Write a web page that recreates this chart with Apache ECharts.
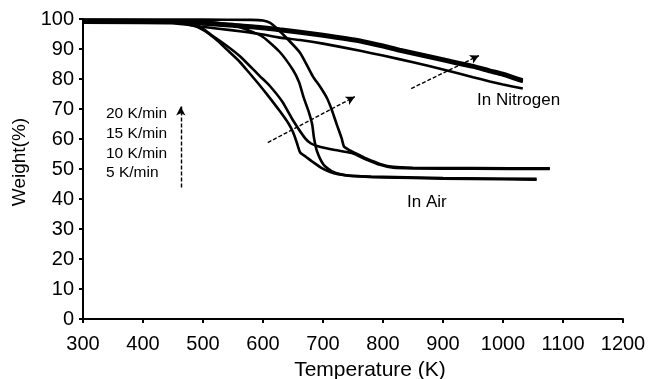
<!DOCTYPE html>
<html>
<head>
<meta charset="utf-8">
<script src="https://cdn.jsdelivr.net/npm/echarts@6/dist/echarts.min.js"></script>
<style>html,body{margin:0;padding:0;background:#fff;}#c{width:658px;height:379px;}</style>
</head>
<body>
<div id="c"></div>
<script>
// Tick values
const xTicks = [300,400,500,600,700,800,900,1000,1100,1200];
const yTicks = [0,10,20,30,40,50,60,70,80,90,100];

// Air, [T (K), weight %]
const air5 = [[300,99.0],[400,99.0],[460,98.6],[483,97.8],[500,96.4],[520,93.5],[540,89.8],[560,86],[573,83],[590,79],[607,74.8],[628,69.3],[643,65],[650,62.3],[656,59],[662,55.5],[672,54],[682,52.5],[698,50.3],[712,49],[725,48.3],[750,47.6],[800,47.2],[900,46.8],[1000,46.6],[1056,46.4]];
const air10 = [[300,99.3],[450,99.1],[490,98],[517,94.2],[540,91],[562,87.5],[595,80.9],[610,78],[632,72.5],[651,65.9],[670,60.3],[680,58.5],[693,57.5],[720,56.3],[748,55.3],[773,53.1],[795,51.4],[817,50.4],[850,50.2],[950,50.1],[1078,50.0]];
const air15 = [[300,99.5],[480,99.3],[520,98.8],[550,97.8],[575,96.3],[600,94],[628,89],[650,83],[660,79],[668,73.7],[676,69.2],[682,64.8],[685,60.3],[690,55.9],[701,51.4],[715,49.2],[735,48],[780,47.5],[900,47],[1056,46.7]];
const air20 = [[300,99.8],[500,99.8],[580,99.7],[600,99.5],[612,98.7],[625,96.5],[640,93.5],[662,88.7],[683,80.9],[695,77.5],[707,73.5],[715,69.5],[723,64.8],[731,60.3],[735,57.5],[743,56.4],[760,54.7],[773,53.4],[795,51.7],[817,50.7],[850,50.4],[950,50.3],[1078,50.2]];

// Nitrogen
const n2_5 = [[300,98.8],[450,98.6],[495,97.5],[550,96.2],[595,95.0],[628,93.8],[662,93.0],[700,91.8],[762,89.4],[800,87.8],[850,85.6],[900,83.2],[950,80.6],[978,79.2],[1000,78.2],[1033,76.8]];
const n2_10 = [[300,99.2],[460,99],[500,98.2],[550,97.5],[595,96.8],[628,96.0],[662,95.2],[700,94.2],[762,92.3],[800,90.6],[828,89.2],[900,86],[950,83.8],[978,82.3],[1000,81.2],[1033,79.0]];
const n2_15 = [[300,99.4],[460,99.2],[500,98.6],[550,97.9],[595,97.2],[628,96.4],[662,95.6],[700,94.6],[762,92.7],[800,91.0],[828,89.6],[900,86.4],[950,84.2],[978,82.7],[1000,81.6],[1033,79.4]];
const n2_20 = [[300,99.7],[460,99.5],[500,99.0],[550,98.3],[595,97.6],[628,96.8],[662,96.0],[700,95.0],[762,93.1],[800,91.4],[828,90.0],[900,86.8],[950,84.6],[978,83.1],[1000,82.0],[1033,79.8]];

// Annotation arrows in data coordinates
const rateArrow = [[463,43.8],[463,70.8]];
const airArrow = [[608,58.8],[753,74.1]];
const n2Arrow = [[847,76.8],[960,87.8]];

const rateLabels = ['20 K/min','15 K/min','10 K/min','5 K/min'];

const FONT = 'Liberation Sans, Arial, sans-serif';
const chart = echarts.init(document.getElementById('c'));

function curve(d){
  return {type:'line', data:d, symbol:'none', smooth:0.2, silent:true,
    lineStyle:{color:'#000', width:2.6}, z:3};
}
function arrow(d){
  return {type:'line', data:[], silent:true,
    markLine:{silent:true, symbol:['none','arrow'], symbolSize:[7,9], animation:false,
      lineStyle:{color:'#000', type:[4,2], width:1.4}, label:{show:false},
      data:[[{coord:d[0]},{coord:d[1]}]]}};
}

chart.setOption({
  animation:false,
  backgroundColor:'#fff',
  grid:{left:83, right:35, top:19, bottom:60},
  xAxis:{type:'value', min:300, max:1200, interval:100,
    axisLine:{lineStyle:{color:'#000', width:2}},
    axisTick:{show:true, length:4, lineStyle:{color:'#000', width:2}},
    axisLabel:{color:'#000', fontSize:20, fontFamily:FONT, margin:15,
      formatter:v=>xTicks.includes(v)?String(v):''},
    splitLine:{show:false}},
  yAxis:{type:'value', min:0, max:100, interval:10,
    axisLine:{show:true, lineStyle:{color:'#000', width:2}},
    axisTick:{show:true, length:4, lineStyle:{color:'#000', width:2}},
    axisLabel:{color:'#000', fontSize:20, fontFamily:FONT, margin:9,
      formatter:v=>yTicks.includes(v)?String(v):''},
    splitLine:{show:false}},
  series:[
    curve(n2_5),curve(n2_10),curve(n2_15),curve(n2_20),
    curve(air5),curve(air10),curve(air15),curve(air20),
    arrow(rateArrow),arrow(airArrow),arrow(n2Arrow)
  ],
  graphic:[
    {type:'text', x:370, y:370, style:{text:'Temperature (K)', font:'21px '+FONT, fill:'#000', textAlign:'center', textVerticalAlign:'middle'}},
    {type:'text', x:20, y:162, rotation:Math.PI/2, style:{text:'Weight(%)', font:'19px '+FONT, fill:'#000', textAlign:'center', textVerticalAlign:'middle'}},
    {type:'text', x:477, y:100, style:{text:'In Nitrogen', font:'17px '+FONT, fill:'#000', textVerticalAlign:'middle'}},
    {type:'text', x:407, y:202, style:{text:'In Air', font:'17px '+FONT, fill:'#000', textVerticalAlign:'middle'}}
  ].concat(rateLabels.map((t,i)=>({type:'text', x:106, y:114+i*19.7,
    style:{text:t, font:'15.5px '+FONT, fill:'#000', textVerticalAlign:'middle'}})))
});
</script>
</body>
</html>
